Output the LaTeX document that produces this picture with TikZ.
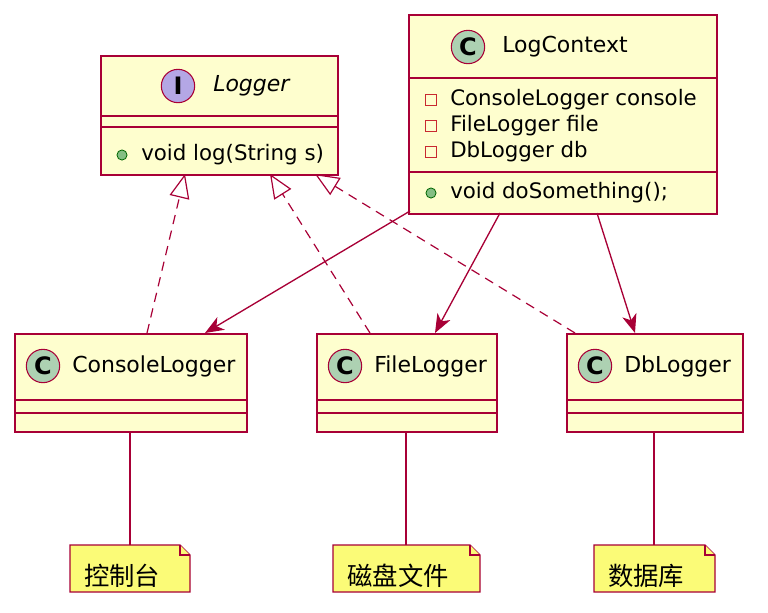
\documentclass[tikz,border=0pt]{standalone}
\usepackage{fontspec}
\setmainfont{DejaVu Sans}
\newfontfamily\cjk{Noto Sans CJK SC}
\usetikzlibrary{arrows.meta,calc}
\definecolor{bd}{HTML}{A80036}
\definecolor{bg}{HTML}{FEFECE}
\definecolor{cc}{HTML}{ADD1B2}
\definecolor{ic}{HTML}{B4A7E5}
\definecolor{nt}{HTML}{FBFB77}
\definecolor{pub}{HTML}{84BE84}
\definecolor{priv}{HTML}{C82930}
\tikzset{
 box/.style={draw=bd,fill=bg,line width=1.3pt,anchor=north west,inner sep=0pt},
 sep/.style={draw=bd,line width=1.1pt},
 badge/.style={circle,draw=bd,line width=0.8pt,minimum size=25pt,inner sep=0pt,font=\bfseries\fontsize{18}{18}\selectfont},
 hd/.style={font=\fontsize{16.5}{18}\selectfont,anchor=west,inner sep=0pt},
 mem/.style={font=\fontsize{16}{18}\selectfont,anchor=west,inner sep=0pt},
 inh/.style={draw=bd,line width=0.9pt,dash pattern=on 7pt off 5pt,-{Triangle[open,length=18pt,width=15pt,line width=0.9pt]}},
 asc/.style={draw=bd,line width=1pt,-{Stealth[length=14pt,width=11pt,inset=4pt]}},
 nline/.style={draw=bd,line width=0.9pt},
 note/.style={draw=bd,fill=nt,line width=0.9pt},
 ntext/.style={font=\cjk\fontsize{19}{21}\selectfont}
}
\newcommand{\pubmark}[1]{\fill[pub] (#1) circle (3.8pt); \draw[green!40!black,line width=0.6pt] (#1) circle (3.8pt);}
\newcommand{\privmark}[1]{\draw[priv,line width=0.8pt] ($(#1)+(-4pt,-4pt)$) rectangle ($(#1)+(4pt,4pt)$);}
\begin{document}
\begin{tikzpicture}[x=0.75pt,y=-0.75pt]
\useasboundingbox (0,0) rectangle (768,612);
% Logger
\node[box,minimum width=177.75pt,minimum height=89.25pt] (lg) at (100,55) {};
\draw[sep] (100,116) -- (337,116); \draw[sep] (100,127) -- (337,127);
\node[badge,fill=ic] (lgb) at (178,86) {I};
\node[hd,font=\itshape\fontsize{16.5}{18}\selectfont] (lgt) at (213,86) {Logger};
\pubmark{122,155}
\node[mem] (lgm) at (141,155) {void log(String s)};
% LogContext
\node[box,minimum width=231pt,minimum height=149.25pt] (ctx) at (408,14) {};
\draw[sep] (408,78) -- (716,78); \draw[sep] (408,172) -- (716,172);
\node[badge,fill=cc] (ctxb) at (468,47) {C};
\node[hd] (ctxt) at (502,47) {LogContext};
\privmark{431,100} \node[mem] (m1) at (450,100) {ConsoleLogger console};
\privmark{431,126} \node[mem] (m2) at (450,126) {FileLogger file};
\privmark{431,152} \node[mem] (m3) at (450,152) {DbLogger db};
\pubmark{431,193} \node[mem] (m4) at (450,193) {void doSomething();};
% ConsoleLogger
\node[box,minimum width=174pt,minimum height=73.5pt] (cl) at (14,333) {};
\draw[sep] (14,400) -- (246,400); \draw[sep] (14,413) -- (246,413);
\node[badge,fill=cc] (clb) at (43,366) {C};
\node[hd] (clt) at (72,366) {ConsoleLogger};
% FileLogger
\node[box,minimum width=135pt,minimum height=73.5pt] (fl) at (316,333) {};
\draw[sep] (316,400) -- (496,400); \draw[sep] (316,413) -- (496,413);
\node[badge,fill=cc] (flb) at (345,366) {C};
\node[hd] (flt) at (374,366) {FileLogger};
% DbLogger
\node[box,minimum width=132pt,minimum height=73.5pt] (db) at (566,333) {};
\draw[sep] (566,400) -- (742,400); \draw[sep] (566,413) -- (742,413);
\node[badge,fill=cc] (dbb) at (595,366) {C};
\node[hd] (dbt) at (624,366) {DbLogger};
% inheritance
\coordinate (i1s) at (147,333); \coordinate (i1e) at (185,174);
\coordinate (i2s) at (370,333); \coordinate (i2e) at (270,174);
\coordinate (i3s) at (575,333); \coordinate (i3e) at (315,174);
\draw[inh] (i1s) -- (i1e);
\draw[inh] (i2s) -- (i2e);
\draw[inh] (i3s) -- (i3e);
% associations
\coordinate (a1s) at (410,211); \coordinate (a1e) at (205,333);
\coordinate (a2s) at (500,213); \coordinate (a2e) at (435,333);
\coordinate (a3s) at (597,213); \coordinate (a3e) at (635,333);
\draw[asc] (a1s) -- (a1e);
\draw[asc] (a2s) -- (a2e);
\draw[asc] (a3s) -- (a3e);
% notes
\draw[note] (70,545) -- (180,545) -- (190,555) -- (190,592) -- (70,592) -- cycle;
\draw[note] (180,545) -- (180,555) -- (190,555);
\node[ntext] (n1) at (122,576) {控制台};
\coordinate (n1t) at (130,545);
\draw[nline] (130,431) -- (n1t);
\draw[note] (333,545) -- (470,545) -- (480,555) -- (480,592) -- (333,592) -- cycle;
\draw[note] (470,545) -- (470,555) -- (480,555);
\node[ntext] (n2) at (398,576) {磁盘文件};
\coordinate (n2t) at (406,545);
\draw[nline] (406,431) -- (n2t);
\draw[note] (594,545) -- (705,545) -- (715,555) -- (715,592) -- (594,592) -- cycle;
\draw[note] (705,545) -- (705,555) -- (715,555);
\node[ntext] (n3) at (646,576) {数据库};
\coordinate (n3t) at (654,545);
\draw[nline] (654,431) -- (n3t);
\end{tikzpicture}
\end{document}
